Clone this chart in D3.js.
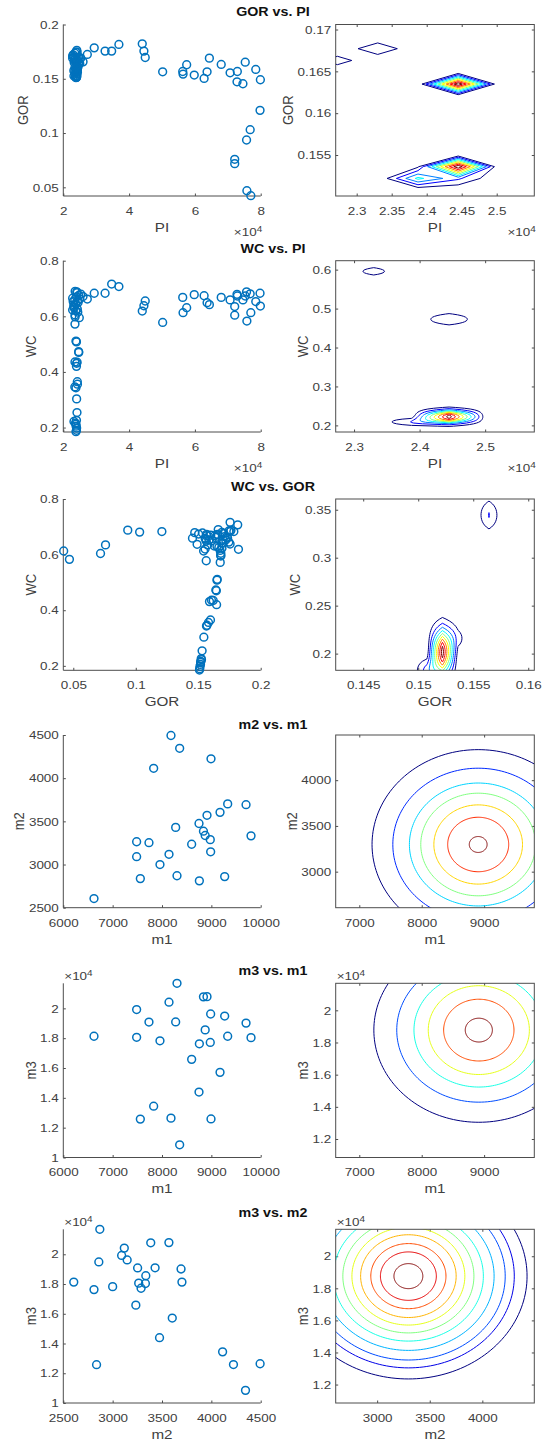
<!DOCTYPE html>
<html><head><meta charset="utf-8">
<script src="https://cdn.jsdelivr.net/npm/d3@7/dist/d3.min.js"></script>
<style>html,body{margin:0;padding:0;background:#fff;}svg{display:block}</style>
</head><body>
<svg id="chart" width="546" height="1443" xmlns="http://www.w3.org/2000/svg"></svg>
<script>
// ================= DATA =================
// Well data: PI (raw units), GOR, WC  (one entry per sample)
const PI = [23850,24000,24050,23900,23850,23700,23240,24000,24160,24050,23850,23500,24300,24260,24000,24050,23550,24200,24660,24700,23850,24000,23550,24860,23600,23550,
  22840,23240,22840,23000,24260,26000,23500,23800,23300,24400,24200,24700,25000,23600,24500,24000,23200,24300,23800,24100,25300,
  27300,29400,32700,34700,36900,44000,44500,44900,50200,56300,56400,57500,59800,62800,63700,64400,68000,70700,72900,72800,74600,75300,78500,79900,79800,76800,75700,72100,72100,75800,77000];
const GOR = [.1510,.1512,.1514,.1518,.1519,.1520,.1526,.1524,.1531,.1545,.1566,.1570,.1582,.1598,.1647,.1590,.1606,.1620,.1641,.1645,.1652,.1650,.1676,.1681,.1680,.1681,
  .1690,.1700,.1710,.1720,.1665,.1656,.1735,.1745,.1650,.1675,.1745,.1700,.1640,.1660,.1610,.1600,.1575,.1560,.1555,.1762,.1690,
  .1724,.1785,.1755,.1755,.1816,.1822,.1755,.1696,.1564,.1567,.1543,.1629,.1534,.1503,.1564,.1690,.1632,.1555,.1567,.1472,.1454,.1653,.1586,.1491,.1209,.1031,.0936,.0758,.0718,.0469,.0423];
const WC = [.185,.190,.198,.205,.212,.216,.222,.226,.254,.303,.343,.346,.356,.365,.420,.431,.436,.435,.473,.470,.511,.508,.572,.595,.598,.605,
  .623,.641,.665,.653,.626,.671,.660,.645,.630,.615,.685,.675,.662,.690,.650,.670,.635,.655,.620,.688,.680,
  .662,.683,.683,.716,.707,.619,.638,.655,.578,.668,.613,.631,.678,.674,.649,.642,.668,.659,.673,.679,.659,.673,.653,.637,.683,.681,.688,.635,.604,.583,.613];

// Model parameters m1, m2, m3
const m1 = [6622,7486,7486,7561,7736,7831,7959,8142,8182,8277,8304,8358,8601,8750,8757,8840,8875,8912,8978,8986,8993,9176,9331,9270,9703,9804];
const m2 = [2606,3264,3091,2837,3253,4114,3000,3118,4494,3430,2870,4346,3235,3475,2811,3386,3336,3570,3288,3147,4224,3604,3702,2860,3693,3332];
const m3 = [18130,18060,19920,12575,19080,13440,17825,20415,12640,19090,21680,10850,16580,14390,17625,20770,18555,20785,17715,19620,12585,15710,18130,19485,19010,18035];

// Tick values
const piTicks = [20000,40000,60000,80000];
const gorTicks = [0.05,0.1,0.15,0.2];
const wcTicks = [0.2,0.4,0.6,0.8];
const piZoomTicksA = [23000,23500,24000,24500,25000];
const gorZoomTicks = [0.155,0.16,0.165,0.17];
const piZoomTicksB = [23000,24000,25000];
const wcZoomTicksB = [0.2,0.3,0.4,0.5,0.6];
const gorZoomTicksC = [0.145,0.15,0.155,0.16];
const wcZoomTicksC = [0.2,0.25,0.3,0.35];
const m1Ticks = [6000,7000,8000,9000,10000];
const m2Ticks = [2500,3000,3500,4000,4500];
const m3Ticks = [10000,12000,14000,16000,18000,20000];
const m1ZoomTicks = [7000,8000,9000];
const m2ZoomTicks = [3000,3500,4000];
const m3ZoomTicks = [12000,14000,16000,18000,20000];

// Density (contour) data: node column, centre, spread, peak
const kdPI1 = [23875,24450,23875,24450,24450,22725,23300];
const kdGOR1 = [0.1522,0.1522,0.15361,0.15361,0.16348,0.1663,0.16771];
const kdSpread1 = [0,0,0,0,0,0,0];
const kdPeak1 = [4.3,2.2,0.8,10,10,1.55,1.95];

const kdPI2 = [24450,23875,23300,24450];
const kdWC2 = [0.2222,0.209,0.5957,0.4726];
const kdSpread2 = [0.0117,0.0075,0.0115,0.0126];
const kdPeak2 = [9.6,2.05,1.40,1.94];

const kdGOR3 = [0.1522,0.15361,0.15079,0.15643];
const kdWC3 = [0.2015,0.216,0.182,0.3445];
const kdSpread3 = [0.017,0.011,0.009,0.0121];
const kdPeak3 = [9.6,1.35,2.6,2.05];

const kdLevels = [1,2,3,4,5,6,7,8,9];

// Elliptical density contours for the m pairs: centre and ring half-heights
const ringCenter4 = [8905,3297];  const ringRy4 = [1037,834,672,561,433,298,87];  const ringAspect4 = 1.64;
const ringCenter5 = [8915,18770]; const ringRy5 = [5730,4480,3540,2760,1920,740]; const ringAspect5 = 0.2935;
const ringCenter6 = [3297,18760]; const ringRy6 = [6410,5720,5230,4630,4050,3540,3050,2580,2030,1510,780]; const ringAspect6 = 0.176;

// ================= DRAWING =================
const svg = d3.select('#chart');
const FONT = '"Liberation Sans", Arial, Helvetica, sans-serif';
const S = 1.17, TFS = 11.5, LFS = 13, HFS = 12.2;
const AX = '#4d4d4d', TXT = '#404040', BLUE = '#0072BD';
const XL = [63.3,260.7], XR = [335.7,534.3];
const TL = 2.5;

function jet(t){const c=v=>Math.max(0,Math.min(1,v));
  return d3.rgb(Math.round(255*c(1.5-Math.abs(4*t-3))),Math.round(255*c(1.5-Math.abs(4*t-2))),Math.round(255*c(1.5-Math.abs(4*t-1)))).formatHex();}
const fmt = s => v => d3.format('~g')(+(v/s).toPrecision(6));

function styleAxis(a){
  a.attr('font-size',null).attr('font-family',null);
  a.selectAll('.domain').remove();
  a.selectAll('.tick line').attr('stroke',AX).attr('stroke-width',1);
  a.selectAll('text').attr('fill',TXT).attr('font-size',TFS).attr('font-family',FONT);
  return a;
}
function expLabel(g,x,y,anchor){
  const t=g.append('text').attr('x',x).attr('y',y).attr('text-anchor',anchor).attr('fill',TXT).attr('font-family',FONT).attr('font-size',TFS);
  t.append('tspan').text('\u00D710');
  t.append('tspan').attr('dy','-0.45em').attr('font-size',8.5).text('4');
}
let clipN=0;
function panel(o){
  const x=d3.scaleLinear().domain(o.xd).range(o.xr);
  const y=d3.scaleLinear().domain(o.yd).range([o.bottom,o.top]);
  const g=svg.append('g');
  const id='clip'+(++clipN);
  g.append('clipPath').attr('id',id).append('rect').attr('x',o.xr[0]).attr('y',o.top).attr('width',o.xr[1]-o.xr[0]).attr('height',o.bottom-o.top);
  const ax=g.append('g');
  const plot=g.append('g');
  if(o.box) plot.attr('clip-path',`url(#${id})`);
  styleAxis(ax.append('g').attr('transform',`translate(0,${o.bottom})`).call(d3.axisBottom(x).tickValues(o.xt).tickFormat(fmt(o.xs||1)).tickSizeInner(-TL).tickSizeOuter(0).tickPadding(10.8)));
  const ly=styleAxis(ax.append('g').attr('transform',`translate(${o.xr[0]},0)`).call(d3.axisLeft(y).tickValues(o.yt).tickFormat(fmt(o.ys||1)).tickSizeInner(-TL).tickSizeOuter(0).tickPadding(4.5)));
  if(o.box){
    styleAxis(ax.append('g').attr('transform',`translate(0,${o.top})`).call(d3.axisTop(x).tickValues(o.xt).tickFormat(()=>'').tickSizeInner(-TL).tickSizeOuter(0)));
    styleAxis(ax.append('g').attr('transform',`translate(${o.xr[1]},0)`).call(d3.axisRight(y).tickValues(o.yt).tickFormat(()=>'').tickSizeInner(-TL).tickSizeOuter(0)));
    g.append('rect').attr('x',o.xr[0]).attr('y',o.top).attr('width',o.xr[1]-o.xr[0]).attr('height',o.bottom-o.top).attr('fill','none').attr('stroke',AX).attr('stroke-width',1);
  } else {
    ax.append('line').attr('x1',o.xr[0]).attr('x2',o.xr[1]).attr('y1',o.bottom).attr('y2',o.bottom).attr('stroke',AX);
    ax.append('line').attr('x1',o.xr[0]).attr('x2',o.xr[0]).attr('y1',o.top).attr('y2',o.bottom).attr('stroke',AX);
  }
  let maxw=0; ly.selectAll('text').each(function(){maxw=Math.max(maxw,this.getComputedTextLength());});
  const lx=o.xr[0]-4.5-maxw*S-10;
  g.append('text').attr('data-rot',1).attr('transform',`translate(${lx},${(o.top+o.bottom)/2}) scale(${S},1) rotate(-90)`)
    .attr('text-anchor','middle').attr('dy','0.36em').attr('font-family',FONT).attr('font-size',LFS).attr('fill',TXT).text(o.ylab);
  g.append('text').attr('x',(o.xr[0]+o.xr[1])/2).attr('y',o.bottom+36).attr('text-anchor','middle')
    .attr('font-family',FONT).attr('font-size',LFS).attr('fill',TXT).text(o.xlab);
  if(o.xexp) expLabel(g,o.xr[1]+1.5,o.bottom+40,'end');
  if(o.yexp) expLabel(g,o.xr[0]+1,o.top-3.5,'start');
  return {x,y,plot};
}
function scatter(p,xs,ys){
  p.plot.selectAll('circle').data(d3.range(xs.length)).join('circle')
    .attr('cx',i=>p.x(xs[i])).attr('cy',i=>p.y(ys[i])).attr('r',3.9)
    .attr('fill','none').attr('stroke',BLUE).attr('stroke-width',1.5);
}
function field(p,grid,bx,by,bs,bv,levels){
  const nx=grid.nx, ny=grid.ny, vals=new Float64Array(nx*ny);
  bx.forEach((cx,k)=>{
    const i=Math.round((cx-grid.x0)/grid.dx);
    if(bs[k]===0){const j=Math.round((by[k]-grid.y0)/grid.dy); vals[i+j*nx]+=bv[k];}
    else for(let j=0;j<ny;j++){const yy=grid.y0+j*grid.dy; vals[i+j*nx]+=bv[k]*Math.exp(-((yy-by[k])**2)/(2*bs[k]*bs[k]));}
  });
  const cs=d3.contours().size([nx,ny]).thresholds(levels)(vals);
  const proj=d3.geoTransform({point(px,py){this.stream.point(p.x(grid.x0+(px-0.5)*grid.dx),p.y(grid.y0+(py-0.5)*grid.dy));}});
  const path=d3.geoPath(proj);
  p.plot.selectAll('path.ct').data(cs).join('path').attr('class','ct').attr('d',path)
    .attr('fill','none').attr('stroke',(d,i)=>jet(i/(levels.length-1))).attr('stroke-width',1);
}
function rings(p,center,rys,aspect){
  const th=d3.range(0,361,2).map(a=>a*Math.PI/180);
  const n=rys.length;
  rys.forEach((ry,k)=>{
    const rx=ry*aspect;
    p.plot.append('path').attr('d',d3.line()(th.map(t=>[p.x(center[0]+rx*Math.cos(t)),p.y(center[1]+ry*Math.sin(t))])))
      .attr('fill','none').attr('stroke',jet(n>1?k/(n-1):0)).attr('stroke-width',1);
  });
}
function title(txt,yc){
  svg.append('text').attr('x',273).attr('y',yc+4.4).attr('text-anchor','middle').attr('font-family',FONT)
    .attr('font-weight','bold').attr('font-size',HFS).attr('fill','#111').text(txt);
}

// ---- Row 1: GOR vs PI
title('GOR vs. PI',12);
let r={top:24.5,bottom:196};
let p=panel({...r,xr:XL,xd:[20000,80000],yd:[0.042,0.2],xt:piTicks,yt:gorTicks,xs:1e4,xlab:'PI',ylab:'GOR',xexp:true});
scatter(p,PI,GOR);
p=panel({...r,xr:XR,xd:[22700,25537],yd:[0.1501,0.1706],xt:piZoomTicksA,yt:gorZoomTicks,xs:1e4,xlab:'PI',ylab:'GOR',xexp:true,box:true});
field(p,{x0:21575,dx:575,nx:10,y0:0.14374,dy:0.00141,ny:25},kdPI1,kdGOR1,kdSpread1,kdPeak1,kdLevels);

// ---- Row 2: WC vs PI
title('WC vs. PI',249);
r={top:260.7,bottom:432};
p=panel({...r,xr:XL,xd:[20000,80000],yd:[0.184,0.8],xt:piTicks,yt:wcTicks,xs:1e4,xlab:'PI',ylab:'WC',xexp:true});
scatter(p,PI,WC);
p=panel({...r,xr:XR,xd:[22720,25750],yd:[0.183,0.623],xt:piZoomTicksB,yt:wcZoomTicksB,xs:1e4,xlab:'PI',ylab:'WC',xexp:true,box:true});
field(p,{x0:21575,dx:575,nx:10,y0:0.10,dy:0.002,ny:326},kdPI2,kdWC2,kdSpread2,kdPeak2,kdLevels);

// ---- Row 3: WC vs GOR
title('WC vs. GOR',487);
r={top:499,bottom:670.3};
p=panel({...r,xr:XL,xd:[0.042,0.2],yd:[0.184,0.8],xt:gorTicks,yt:wcTicks,xlab:'GOR',ylab:'WC'});
scatter(p,GOR,WC);
p=panel({...r,xr:XR,xd:[0.1425,0.16055],yd:[0.1826,0.3612],xt:gorZoomTicksC,yt:wcZoomTicksC,xlab:'GOR',ylab:'WC',box:true});
field(p,{x0:0.14092,dx:0.00141,nx:17,y0:0.10,dy:0.002,ny:201},kdGOR3,kdWC3,kdSpread3,kdPeak3,kdLevels);

// ---- Row 4: m2 vs m1
title('m2 vs. m1',725);
r={top:735,bottom:907.7};
p=panel({...r,xr:XL,xd:[6000,10000],yd:[2500,4500],xt:m1Ticks,yt:m2Ticks,xlab:'m1',ylab:'m2'});
scatter(p,m1,m2);
p=panel({...r,xr:XR,xd:d3.extent(m1),yd:d3.extent(m2),xt:m1ZoomTicks,yt:m2ZoomTicks,xlab:'m1',ylab:'m2',box:true});
rings(p,ringCenter4,ringRy4,ringAspect4);

// ---- Row 5: m3 vs m1
title('m3 vs. m1',970.3);
r={top:983.3,bottom:1157.5};
p=panel({...r,xr:XL,xd:[6000,10000],yd:[10000,d3.max(m3)],xt:m1Ticks,yt:m3Ticks,ys:1e4,xlab:'m1',ylab:'m3',yexp:true});
scatter(p,m1,m3);
p=panel({...r,xr:XR,xd:d3.extent(m1),yd:d3.extent(m3),xt:m1ZoomTicks,yt:m3ZoomTicks,ys:1e4,xlab:'m1',ylab:'m3',yexp:true,box:true});
rings(p,ringCenter5,ringRy5,ringAspect5);

// ---- Row 6: m3 vs m2
title('m3 vs. m2',1212.8);
r={top:1229.3,bottom:1403};
p=panel({...r,xr:XL,xd:[2500,4500],yd:[10000,d3.max(m3)],xt:m2Ticks,yt:m3Ticks,ys:1e4,xlab:'m2',ylab:'m3',yexp:true});
scatter(p,m2,m3);
p=panel({...r,xr:XR,xd:d3.extent(m2),yd:d3.extent(m3),xt:m2ZoomTicks,yt:m3ZoomTicks,ys:1e4,xlab:'m2',ylab:'m3',yexp:true,box:true});
rings(p,ringCenter6,ringRy6,ringAspect6);

// horizontal stretch of all text to match the reference's wide lettering
svg.selectAll('text').each(function(){
  const t=d3.select(this);
  if(t.attr('data-rot')) return;
  const x=+(t.attr('x')||0);
  t.attr('transform',`translate(${x*(1-S)},0) scale(${S},1)`);
});
</script>
</body></html>
